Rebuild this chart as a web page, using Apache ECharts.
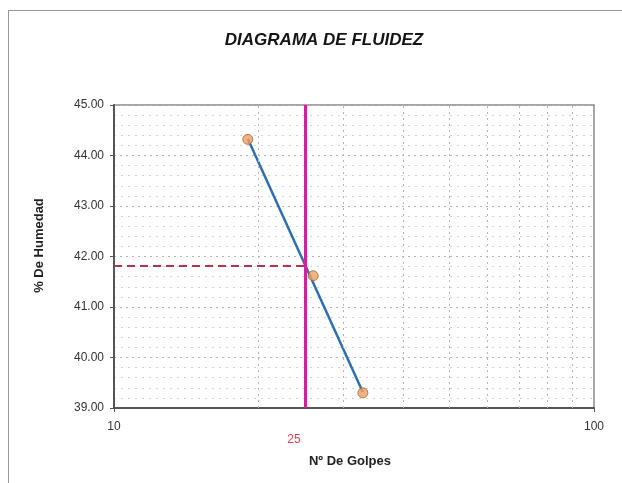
<!DOCTYPE html>
<html>
<head>
<meta charset="utf-8">
<script src="https://cdn.jsdelivr.net/npm/echarts@6/dist/echarts.min.js"></script>
<style>
  html, body { margin: 0; padding: 0; background: #fff; }
  #frame { position: absolute; left: 8px; top: 10px; width: 614px; height: 473px;
           border-top: 1px solid #9a9a9a; border-left: 1px solid #9a9a9a; }
  #chart { position: absolute; left: 0; top: 0; width: 622px; height: 483px; }
</style>
</head>
<body>
<div id="frame"></div>
<div id="chart"></div>
<script>
// Ensayo de límite líquido: golpes vs. % de humedad
const golpes = [19, 26, 33];
const humedad = [44.32, 41.62, 39.30];

// Recta de ajuste (escala semilogarítmica)
const trendX = [19, 33];
const trendY = [44.33, 39.31];

// Lectura a 25 golpes
const crossX = 25;
const crossY = 41.82;

// Divisiones secundarias del eje logarítmico
const minorX = [20, 30, 40, 50, 60, 70, 80, 90];

const yTicks = { min: 39, max: 45, step: 1 };
const xRange = { min: 10, max: 100 };

const font = '"Liberation Sans", Arial, sans-serif';

const chart = echarts.init(document.getElementById('chart'), null, { renderer: 'canvas' });

chart.setOption({
  animation: false,
  backgroundColor: 'transparent',
  title: {
    text: 'DIAGRAMA DE FLUIDEZ',
    left: 319,
    textAlign: 'center',
    top: 27,
    textStyle: { fontFamily: font, fontSize: 17, fontWeight: 'bold', fontStyle: 'italic', color: '#151515' }
  },
  grid: {
    left: 114, right: 28, top: 105, bottom: 75,
    show: true, borderColor: '#8a8a8a', borderWidth: 1.5, backgroundColor: '#fff'
  },
  xAxis: {
    type: 'log',
    logBase: 10,
    min: xRange.min,
    max: xRange.max,
    name: 'Nº De Golpes',
    nameLocation: 'middle',
    nameGap: 47,
    nameTextStyle: { fontFamily: font, fontSize: 13, fontWeight: 'bold', color: '#222', padding: [0, 8, 0, 0] },
    axisLine: { lineStyle: { color: '#555', width: 2 } },
    axisTick: { show: true, length: 4, lineStyle: { color: '#555' } },
    axisLabel: { fontFamily: font, fontSize: 12, color: '#333', margin: 13 },
    splitLine: { show: false }
  },
  yAxis: {
    type: 'value',
    min: yTicks.min,
    max: yTicks.max,
    interval: yTicks.step,
    name: '% De Humedad',
    nameLocation: 'middle',
    nameRotate: 90,
    nameGap: 68,
    nameTextStyle: { fontFamily: font, fontSize: 13, fontWeight: 'bold', color: '#222', padding: [0, 0, 0, 22] },
    axisLine: { show: true, lineStyle: { color: '#555', width: 2 } },
    axisTick: { show: true, length: 4, lineStyle: { color: '#555' } },
    axisLabel: { fontFamily: font, fontSize: 12, color: '#333', margin: 10,
                 formatter: v => v.toFixed(2) },
    splitLine: { show: true, lineStyle: { color: '#b5b5b5', type: [2, 4], width: 1 } },
    minorTick: { show: false, splitNumber: 5 },
    minorSplitLine: { show: true, lineStyle: { color: '#d2d2d2', type: [2, 5], width: 1 } }
  },
  series: [
    {
      // líneas verticales secundarias del eje log
      type: 'line',
      data: [],
      silent: true,
      markLine: {
        silent: true,
        symbol: 'none',
        label: { show: false },
        lineStyle: { color: '#b5b5b5', type: [2, 4], width: 1 },
        data: minorX.map(v => ({ xAxis: v }))
      }
    },
    {
      // lectura a 25 golpes
      type: 'line',
      data: [],
      silent: true,
      z: 3,
      markLine: {
        silent: true,
        symbol: 'none',
        data: [
          {
            xAxis: crossX,
            lineStyle: { color: '#d021a0', type: 'solid', width: 3 },
            label: { show: true, position: 'start', distance: 26, offset: [-11, 0],
                     formatter: String(crossX),
                     fontFamily: font, fontSize: 12, color: '#e0445c' }
          },
          [
            { coord: [xRange.min, crossY], lineStyle: { color: '#b0354a', type: [8, 5], width: 2 }, label: { show: false } },
            { coord: [crossX, crossY] }
          ]
        ]
      }
    },
    {
      name: 'Ajuste',
      type: 'line',
      data: trendX.map((x, i) => [x, trendY[i]]),
      showSymbol: false,
      symbol: 'none',
      z: 4,
      lineStyle: { color: '#2f6fb0', width: 2.5 }
    },
    {
      name: 'Humedad',
      type: 'scatter',
      data: golpes.map((x, i) => [x, humedad[i]]),
      symbol: 'circle',
      symbolSize: 10,
      z: 5,
      itemStyle: { color: '#eea060', borderColor: '#a5643a', borderWidth: 1 }
    }
  ]
});
</script>
</body>
</html>
